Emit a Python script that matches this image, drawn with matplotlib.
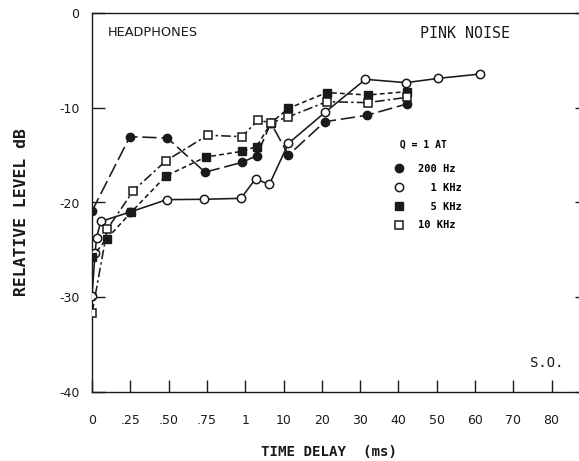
import matplotlib
matplotlib.use("Agg")
import matplotlib.pyplot as plt
from matplotlib.lines import Line2D

# tick categories (evenly spaced on the axis)
tick_labels = ['0', '.25', '.50', '.75', '1', '10', '20', '30', '40', '50', '60', '70', '80']

# series: x in axis-index units, y in dB
x_200 = [0.0, 0.99, 1.97, 2.95, 3.92, 4.30, 4.67, 5.13, 6.08, 7.17, 8.22]
y_200 = [-20.9, -13.05, -13.2, -16.8, -15.76, -15.06, -11.6, -15.0, -11.47, -10.8, -9.6]

x_1k = [0.0, 0.08, 0.12, 0.23, 1.00, 1.95, 2.92, 3.89, 4.27, 4.63, 5.13, 6.08, 7.14, 8.20, 9.04, 10.13]
y_1k = [-29.9, -25.3, -23.7, -22.0, -21.0, -19.7, -19.66, -19.56, -17.5, -18.1, -13.75, -10.5, -7.0, -7.35, -6.9, -6.44]

x_5k = [0.0, 0.38, 1.03, 1.93, 2.97, 3.92, 4.30, 4.67, 5.13, 6.13, 7.20, 8.22]
y_5k = [-25.8, -23.85, -21.0, -17.2, -15.2, -14.6, -14.1, -11.6, -10.06, -8.4, -8.65, -8.3]

x_10k = [0.0, 0.40, 1.08, 1.93, 3.02, 3.92, 4.33, 4.67, 5.13, 6.13, 7.20, 8.22]
y_10k = [-31.7, -22.8, -18.75, -15.6, -12.9, -13.05, -11.3, -11.6, -10.95, -9.36, -9.46, -8.9]

legend_labels = ['200 Hz', '  1 KHz', '  5 KHz', '10 KHz']

ink = '#1a1a1a'
fig = plt.figure(figsize=(5.79, 4.61), dpi=100)
ax = fig.add_axes([92/579, 1-392/461, 1-92/579, (392-13)/461])

lw = 1.15
ms = 6
ax.plot(x_200, y_200, color=ink, lw=lw, dashes=(9, 3), marker='o', ms=ms,
        mfc=ink, mec=ink, zorder=3)
ax.plot(x_1k, y_1k, color=ink, lw=lw, ls='-', marker='o', ms=ms,
        mfc='white', mec=ink, mew=1.1, zorder=3)
ax.plot(x_5k, y_5k, color=ink, lw=lw, dashes=(3, 2), marker='s', ms=5.5,
        mfc=ink, mec=ink, zorder=3)
ax.plot(x_10k, y_10k, color=ink, lw=lw, dashes=(6, 2, 1.5, 2), marker='s', ms=5.5,
        mfc='white', mec=ink, mew=1.1, zorder=3)

ax.set_xlim(0, 487/38.3)
ax.set_ylim(-40, 0)
ax.set_xticks(range(len(tick_labels)))
ax.set_xticklabels(tick_labels)
ax.set_yticks([0, -10, -20, -30, -40])
ax.set_yticklabels(['0', '-10', '-20', '-30', '-40'])

for s in ['left', 'bottom', 'top']:
    ax.spines[s].set_color(ink)
    ax.spines[s].set_linewidth(1.0)
ax.spines['right'].set_visible(False)

ax.tick_params(axis='x', direction='in', length=9, width=1, pad=16,
               labelsize=9, colors=ink)
ax.tick_params(axis='y', direction='in', length=9, width=1, pad=9,
               labelsize=9, colors=ink, right=True, labelright=False)
for t in ax.yaxis.get_ticklines()[1::2]:
    t.set_markersize(3)

ax.set_xlabel('TIME DELAY  (ms)', fontsize=10.2, fontweight='bold',
              family='DejaVu Sans Mono', color=ink)
ax.set_ylabel('RELATIVE LEVEL dB', fontsize=11.8, fontweight='bold',
              family='DejaVu Sans Mono', color=ink)
ax.xaxis.set_label_coords((329-92)/487, -0.14)
ax.yaxis.set_label_coords(-0.13, 1-(212-13)/379)

ax.text(16/487, 1-20/379, 'HEADPHONES', transform=ax.transAxes,
        fontsize=9.3, family='DejaVu Sans', color=ink, va='center')
ax.text(328/487, 1-20/379, 'PINK NOISE', transform=ax.transAxes,
        fontsize=10.8, family='DejaVu Sans Mono', color=ink, va='center')
ax.text(438/487, 1-350/379, 'S.O.', transform=ax.transAxes,
        fontsize=10, family='DejaVu Sans Mono', color=ink, va='center')

handles = [
    Line2D([], [], ls='none', marker='o', ms=ms, mfc=ink, mec=ink),
    Line2D([], [], ls='none', marker='o', ms=ms, mfc='white', mec=ink, mew=1.1),
    Line2D([], [], ls='none', marker='s', ms=5.5, mfc=ink, mec=ink),
    Line2D([], [], ls='none', marker='s', ms=5.5, mfc='white', mec=ink, mew=1.1),
]
leg = ax.legend(handles, legend_labels, title=' Q = 1 AT', frameon=False,
                loc='upper left', bbox_to_anchor=((394-92)/487, 1-(140-13)/379),
                prop={'family': 'DejaVu Sans Mono', 'size': 7.5, 'weight': 'bold'},
                title_fontproperties={'family': 'DejaVu Sans Mono', 'size': 7, 'weight': 'bold'},
                handlelength=1.0, handletextpad=1.3, labelspacing=0.85,
                borderpad=0, borderaxespad=0)
leg._legend_box.align = 'left'
leg._legend_box.sep = 10

fig.savefig('out.png', dpi=100)
